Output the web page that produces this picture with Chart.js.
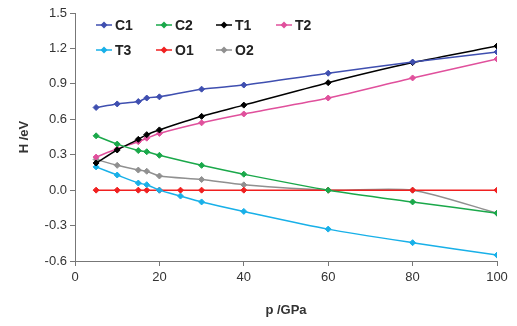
<!DOCTYPE html>
<html>
<head>
<meta charset="utf-8">
<script src="https://cdn.jsdelivr.net/npm/chart.js@4/dist/chart.umd.min.js"></script>
<style>
  html, body { margin: 0; padding: 0; background: #fff; }
  #wrap { width: 517px; height: 326px; }
</style>
</head>
<body>
<div id="wrap"><canvas id="chart" width="517" height="326"></canvas></div>
<script>
// pressure points (GPa) per series
var pBase = [5, 10, 15, 17, 20, 30, 40, 60, 80, 100];
var pFull = [5, 10, 15, 17, 20, 25, 30, 40, 60, 80, 100];

// enthalpy values (eV)
var c1 = [0.70, 0.73, 0.75, 0.78, 0.79, 0.855, 0.89, 0.99, 1.085, 1.17];
var c2 = [0.46, 0.39, 0.335, 0.325, 0.295, 0.21, 0.135, 0.0, -0.10, -0.195];
var t1 = [0.23, 0.34, 0.43, 0.47, 0.51, 0.625, 0.72, 0.91, 1.08, 1.22];
var t2 = [0.28, 0.35, 0.41, 0.44, 0.48, 0.57, 0.645, 0.78, 0.95, 1.11];
var t3 = [0.197, 0.128, 0.06, 0.046, 0.0, -0.05, -0.10, -0.18, -0.33, -0.445, -0.55];
var o1 = [0, 0, 0, 0, 0, 0, 0, 0, 0, 0, 0];
var o2 = [0.26, 0.21, 0.17, 0.16, 0.12, 0.09, 0.045, 0.0, 0.0, -0.195];

var seriesNames = ['C1', 'C2', 'T1', 'T2', 'T3', 'O1', 'O2'];
var seriesColors = ['#3f4fb0', '#1aa84a', '#000000', '#e0509c', '#18b0e8', '#f02020', '#909090'];

var xTitle = 'p /GPa';
var yTitle = 'H /eV';

function pts(xs, ys) {
    return xs.map(function (x, i) { return {x: x, y: ys[i]}; });
}

var seriesX = [pBase, pBase, pBase, pBase, pFull, pFull, pBase];
var seriesY = [c1, c2, t1, t2, t3, o1, o2];

var datasets = seriesNames.map(function (name, i) {
    return {
        label: name,
        data: pts(seriesX[i], seriesY[i]),
        borderColor: seriesColors[i],
        backgroundColor: seriesColors[i],
        borderWidth: 1.5,
        pointStyle: 'rectRot',
        pointRadius: 3,
        pointBorderWidth: 1,
        tension: 0.25
    };
});

var FONT = '"Liberation Sans", Arial, sans-serif';

// Excel-style legend: two rows of fixed columns inside the plot
var gridLegend = {
    id: 'gridLegend',
    afterDraw: function (chart) {
        var ctx = chart.ctx, area = chart.chartArea;
        ctx.save();
        ctx.font = 'bold 14px ' + FONT;
        ctx.textBaseline = 'middle';
        chart.data.datasets.forEach(function (ds, i) {
            var x = area.left + 21 + (i % 4) * 60;
            var y = area.top + 12 + Math.floor(i / 4) * 25;
            ctx.strokeStyle = ds.borderColor;
            ctx.lineWidth = 1.5;
            ctx.beginPath();
            ctx.moveTo(x, y);
            ctx.lineTo(x + 16, y);
            ctx.stroke();
            ctx.fillStyle = ds.borderColor;
            ctx.beginPath();
            ctx.moveTo(x + 8, y - 3.5);
            ctx.lineTo(x + 11.5, y);
            ctx.lineTo(x + 8, y + 3.5);
            ctx.lineTo(x + 4.5, y);
            ctx.closePath();
            ctx.fill();
            ctx.fillStyle = '#222';
            ctx.fillText(ds.label, x + 19, y + 1);
        });
        ctx.restore();
    }
};

var ctx = document.getElementById('chart').getContext('2d');
var chart = new Chart(ctx, {
    type: 'line',
    data: { datasets: datasets },
    options: {
        responsive: false,
        animation: false,
        layout: { padding: { top: 13, right: 20, bottom: 4, left: 13 } },
        plugins: {
            legend: { display: false },
            tooltip: { enabled: false }
        },
        scales: {
            x: {
                type: 'linear',
                min: 0,
                max: 100,
                ticks: { stepSize: 20, color: '#333', font: { family: FONT, size: 13 }, padding: 4 },
                grid: { drawOnChartArea: false, drawTicks: true, tickLength: 5, color: '#777' },
                border: { color: '#777', width: 1 },
                title: { display: true, text: xTitle, color: '#333', font: { family: FONT, size: 13, weight: 'bold' }, padding: { top: 8 } },
                afterFit: function (scale) { scale.height = 61; }
            },
            y: {
                min: -0.6,
                max: 1.5,
                ticks: {
                    stepSize: 0.3,
                    color: '#333',
                    font: { family: FONT, size: 13 },
                    padding: 3,
                    callback: function (v) { return Number(v).toFixed(1); }
                },
                grid: { drawOnChartArea: false, drawTicks: true, tickLength: 5, color: '#777' },
                border: { color: '#777', width: 1 },
                title: { display: true, text: yTitle, color: '#333', font: { family: FONT, size: 13, weight: 'bold' } },
                afterFit: function (scale) { scale.width = 62; }
            }
        }
    },
    plugins: [gridLegend]
});
</script>
</body>
</html>
